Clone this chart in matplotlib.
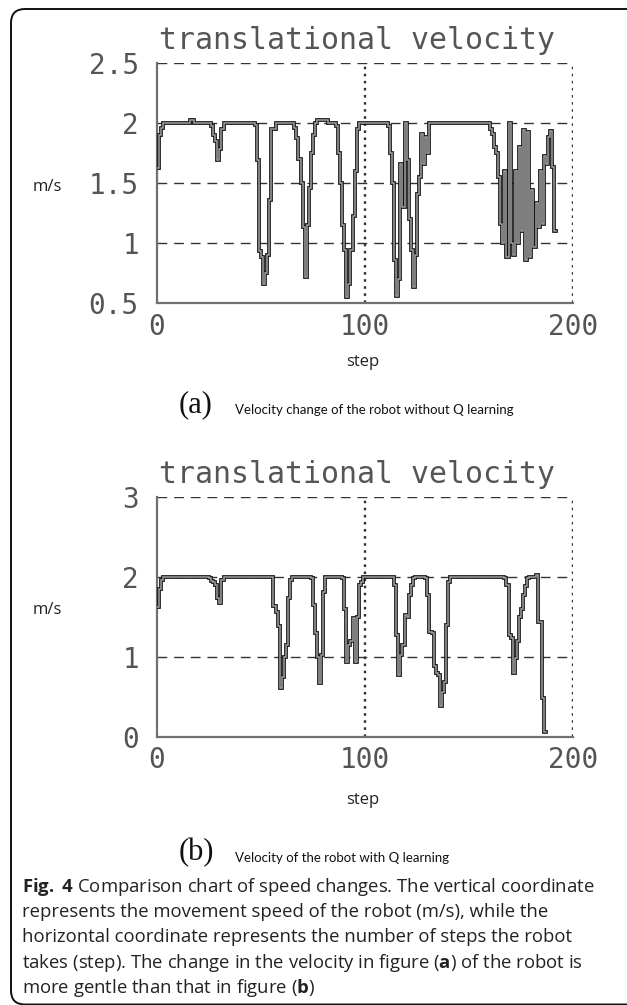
import matplotlib
matplotlib.use("Agg")
import matplotlib.pyplot as plt
import matplotlib.patheffects as pe
from matplotlib.patches import FancyBboxPatch

plt.rcParams["mathtext.fontset"] = "custom"
plt.rcParams["mathtext.rm"] = "Open Sans"
plt.rcParams["mathtext.bf"] = "Open Sans:bold"

# ---------------- data ----------------
steps_a = [0, 1, 2, 3, 16, 18,
           26, 27, 28, 29, 30, 31, 32,
           47, 48, 49, 50, 51, 52, 53, 54, 55, 57,
           66, 67, 68, 69, 70, 71, 72, 73, 74, 75, 76, 77, 82,
           86, 87, 88, 89, 90, 91, 92, 93, 94, 95, 96, 97,
           111, 112, 113, 114, 115, 116, 117, 118, 119, 120, 121, 122, 123,
           124, 125, 126, 127, 128, 129, 130, 131,
           160, 161, 162, 163, 164, 165, 166, 167, 168, 169, 170, 171, 172,
           173, 174, 175, 176, 177, 178, 179, 180, 181, 182, 183, 184, 185,
           186, 187, 188, 189, 190, 191, 192]
vel_a = [1.62, 1.90, 1.96, 2.0, 2.02, 2.0,
         1.97, 1.90, 1.85, 1.69, 1.78, 1.95, 2.0,
         1.98, 1.69, 0.93, 0.88, 0.66, 0.75, 0.90, 1.36, 1.95, 2.0,
         1.96, 1.87, 1.70, 1.50, 1.13, 0.72, 1.15, 1.46, 1.75, 1.90, 2.0, 2.02, 2.0,
         1.97, 1.75, 1.50, 1.15, 0.94, 0.55, 0.66, 0.94, 1.22, 1.60, 1.95, 2.0,
         1.97, 1.75, 1.50, 0.86, 0.56, 0.70, 1.66, 1.30, 2.0, 1.69, 1.20, 0.94, 0.63,
         0.90, 1.41, 1.55, 1.91, 1.66, 1.88, 1.75, 2.0,
         1.95, 1.91, 1.80, 1.75, 1.55, 1.16, 1.00, 1.60, 0.88, 2.0, 1.00, 0.90, 1.60,
         1.00, 1.80, 1.10, 1.94, 0.86, 1.92, 0.88, 1.44, 0.97, 1.33, 1.13, 1.60, 1.16,
         1.72, 1.66, 1.88, 1.93, 1.63, 1.10, 1.10]

steps_b = [0, 1, 2, 3,
           25, 26, 27, 28, 29, 30, 31, 32,
           56, 57, 58, 59, 60, 61, 62, 63, 64, 65,
           74, 75, 76, 77, 78, 79, 80, 81,
           89, 90, 91, 92, 93, 94, 95, 96, 97, 98, 99,
           114, 115, 116, 117, 118, 119, 120, 121, 122, 123, 124,
           129, 130, 131, 132, 133, 134, 135, 136, 137, 138, 139, 140, 141,
           167, 168, 169, 170, 171, 172, 173, 174, 175, 176, 177, 178, 179,
           182, 183, 185, 186, 187]
vel_b = [1.62, 1.85, 1.96, 2.0,
         1.98, 1.95, 1.93, 1.90, 1.73, 1.67, 1.96, 2.0,
         1.63, 1.56, 1.38, 0.61, 0.75, 1.00, 1.15, 1.73, 1.96, 2.0,
         1.98, 1.65, 1.30, 1.00, 0.67, 1.02, 1.81, 2.0,
         1.98, 1.60, 0.94, 1.15, 1.20, 1.48, 0.94, 1.50, 1.90, 1.94, 2.0,
         1.90, 1.27, 0.77, 1.02, 1.15, 1.52, 1.50, 1.77, 1.90, 1.98, 2.0,
         1.98, 1.77, 1.31, 1.30, 0.89, 0.80, 0.77, 0.38, 0.56, 0.69, 1.40, 1.93, 2.0,
         1.98, 1.90, 1.27, 1.23, 0.80, 0.98, 1.20, 1.50, 1.60, 1.77, 1.88, 1.98, 2.0,
         2.02, 1.43, 0.48, 0.06, 0.06]

xticks = [0, 100, 200]
yticks_a = [0.5, 1, 1.5, 2, 2.5]
yticklabels_a = ["0.5", "1", "1.5", "2", "2.5"]
yticks_b = [0, 1, 2, 3]
yticklabels_b = ["0", "1", "2", "3"]

title_text = "translational velocity"
ylabel_text = "m/s"
xlabel_text = "step"
cap_a = "Velocity change of the robot without Q learning"
cap_b = "Velocity of the robot with Q learning"
fig_caption = [
    r"$\mathbf{Fig.}$ $\mathbf{4}$ Comparison chart of speed changes. The vertical coordinate",
    "represents the movement speed of the robot (m/s), while the",
    "horizontal coordinate represents the number of steps the robot",
    r"takes (step). The change in the velocity in figure ($\mathbf{a}$) of the robot is",
    r"more gentle than that in figure ($\mathbf{b}$)",
]

# ---------------- figure ----------------
W, H = 627, 1005
fig = plt.figure(figsize=(W / 100, H / 100), dpi=100)
fig.patch.set_facecolor("white")


def fx(px):
    return px / W


def fy(py):
    return 1 - py / H


TICK_FONT = "DejaVu Sans Mono"
TICK_COLOR = "#555555"
CAP_FONT = "Open Sans"


def make_panel(top_px, bottom_px, steps, vals, ylim, yticks, yticklabels):
    ax = fig.add_axes([fx(157), fy(bottom_px), fx(573) - fx(157),
                       fy(top_px) - fy(bottom_px)])
    ax.set_xlim(0, 200)
    ax.set_ylim(*ylim)
    for s in ("top", "right"):
        ax.spines[s].set_visible(False)
    for s in ("left", "bottom"):
        ax.spines[s].set_color("#707070")
        ax.spines[s].set_linewidth(1.6)
    for yv in yticks:
        if yv == ylim[0]:
            continue
        ax.axhline(yv, color="#333333", lw=1.0, ls=(0, (7, 5)), zorder=1)
    for xv in xticks:
        if xv == 0:
            continue
        ax.axvline(xv, color="#333333", lw=1.7, ls=(0, (1.1, 1.9)), zorder=1)
    ax.set_xticks(xticks)
    ax.set_xticklabels([str(t) for t in xticks])
    ax.set_yticks(yticks)
    ax.set_yticklabels(yticklabels)
    ax.tick_params(length=0, labelsize=20, colors=TICK_COLOR)
    ax.tick_params(axis="y", pad=13)
    ax.tick_params(axis="x", pad=7)
    for lab in ax.get_xticklabels() + ax.get_yticklabels():
        lab.set_family(TICK_FONT)
    ax.plot(steps, vals, drawstyle="steps-post", color="#a0a0a0", lw=1.1,
            solid_joinstyle="miter", zorder=3,
            path_effects=[pe.Stroke(linewidth=2.7, foreground="#151515"),
                          pe.Normal()])
    fig.text(fx(357), fy(top_px - 22), title_text, family=TICK_FONT,
             fontsize=21.5, color=TICK_COLOR, ha="center", va="center")
    return ax


ax_a = make_panel(62.7, 303, steps_a, vel_a, (0.5, 2.5), yticks_a, yticklabels_a)
ax_b = make_panel(496.7, 736.7, steps_b, vel_b, (0, 3), yticks_b, yticklabels_b)

# axis labels & sub-captions
for ypx in (187, 610):
    fig.text(fx(47), fy(ypx), ylabel_text, family=CAP_FONT, fontsize=12,
             ha="center", va="center", color="#222222")
for ypx in (362, 800):
    fig.text(fx(363), fy(ypx), xlabel_text, family=CAP_FONT, fontsize=12,
             ha="center", va="center", color="#222222")

fig.text(fx(196), fy(405), "(a)", family="Liberation Serif", fontsize=22,
         ha="center", va="center", color="#111111")
fig.text(fx(235), fy(410), cap_a, family="Lato", fontsize=9.5,
         ha="left", va="center", color="#111111")
fig.text(fx(196), fy(853), "(b)", family="Liberation Serif", fontsize=22,
         ha="center", va="center", color="#111111")
fig.text(fx(235), fy(858), cap_b, family="Lato", fontsize=9.5,
         ha="left", va="center", color="#111111")

# figure caption
y0, dy = 887, 25.2
for i, line in enumerate(fig_caption):
    fig.text(fx(22), fy(y0 + i * dy), line, family=CAP_FONT, fontsize=13.3,
             ha="left", va="center", color="#222222")

# rounded frame (right and bottom edges run off the canvas)
frame = FancyBboxPatch((0.11, 0.005), 6.8, 9.955,
                       boxstyle="round,pad=0,rounding_size=0.14",
                       transform=fig.dpi_scale_trans, fill=False,
                       edgecolor="#111111", lw=1.4, clip_on=False)
fig.add_artist(frame)

fig.savefig("out.png", dpi=100, facecolor="white")
